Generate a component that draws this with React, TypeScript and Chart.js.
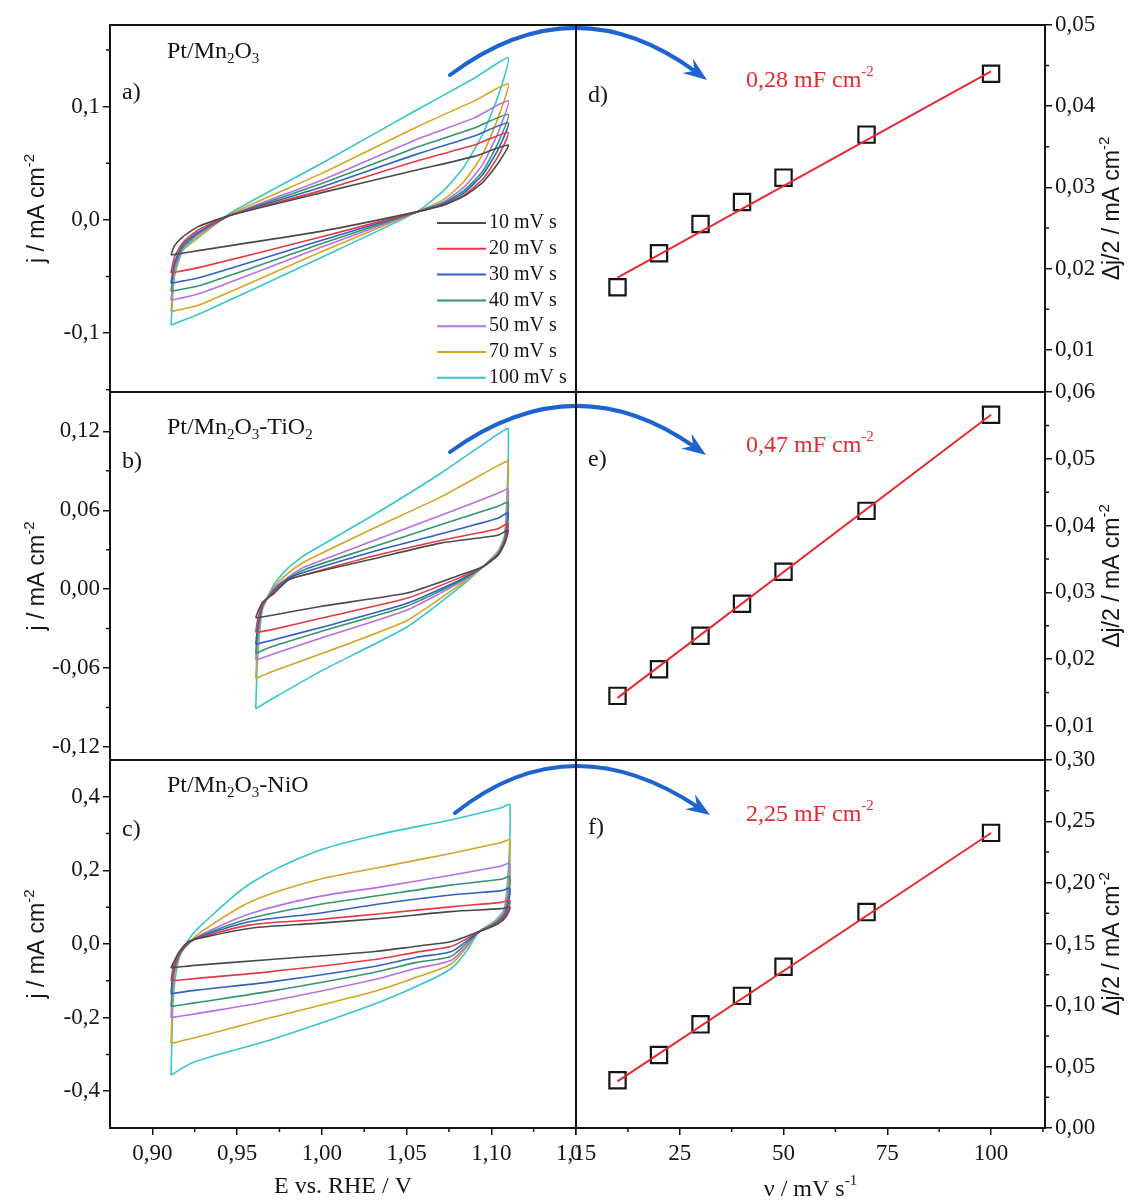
import React, { useEffect, useRef } from 'react';
import { Chart, registerables } from 'chart.js';

Chart.register(...registerables);

// ---------------- data ----------------
const SPEED_LABELS = ['10 mV s', '20 mV s', '30 mV s', '40 mV s', '50 mV s', '70 mV s', '100 mV s'];
const SCAN_RATES = [10, 20, 30, 40, 50, 70, 100];

// Panel a) Pt/Mn2O3
const A_E_ANODIC = [0.911, 0.913, 0.918, 0.927, 0.946, 1.0, 1.056, 1.09, 1.11];
const A_J_ANODIC = [
  [-0.031, -0.023, -0.015, -0.006, 0.004, 0.024, 0.044, 0.056, 0.066],
  [-0.047, -0.033, -0.02, -0.009, 0.004, 0.026, 0.052, 0.066, 0.077],
  [-0.056, -0.038, -0.022, -0.011, 0.004, 0.029, 0.058, 0.074, 0.0855],
  [-0.063, -0.041, -0.024, -0.012, 0.004, 0.032, 0.064, 0.081, 0.093],
  [-0.071, -0.045, -0.025, -0.013, 0.004, 0.035, 0.071, 0.09, 0.105],
  [-0.081, -0.048, -0.026, -0.015, 0.005, 0.041, 0.082, 0.105, 0.12],
  [-0.093, -0.05, -0.027, -0.016, 0.006, 0.05, 0.097, 0.125, 0.143],
];
const A_E_CATHODIC = [1.11, 1.104, 1.095, 1.084, 1.072, 1.056, 1.0, 0.928, 0.911];
const A_J_CATHODIC = [
  [0.066, 0.05, 0.033, 0.021, 0.013, 0.007, -0.01, -0.027, -0.031],
  [0.077, 0.056, 0.036, 0.022, 0.013, 0.007, -0.015, -0.042, -0.047],
  [0.0855, 0.062, 0.04, 0.024, 0.014, 0.007, -0.018, -0.051, -0.056],
  [0.093, 0.068, 0.043, 0.026, 0.015, 0.007, -0.021, -0.058, -0.063],
  [0.105, 0.077, 0.049, 0.029, 0.016, 0.007, -0.024, -0.065, -0.071],
  [0.12, 0.09, 0.058, 0.034, 0.018, 0.007, -0.028, -0.075, -0.081],
  [0.143, 0.109, 0.076, 0.047, 0.026, 0.007, -0.033, -0.083, -0.093],
];

// Panel b) Pt/Mn2O3-TiO2
const B_E_ANODIC = [0.961, 0.962, 0.965, 0.972, 0.98, 0.99, 1.03, 1.07, 1.104, 1.11];
const B_J_ANODIC = [
  [-0.022, -0.018, -0.01, -0.003, 0.007, 0.011, 0.023, 0.035, 0.041, 0.045],
  [-0.033, -0.024, -0.011, -0.002, 0.007, 0.011, 0.025, 0.037, 0.046, 0.05],
  [-0.042, -0.03, -0.012, -0.001, 0.008, 0.013, 0.0285, 0.042, 0.054, 0.058],
  [-0.049, -0.034, -0.013, 0.0, 0.008, 0.015, 0.032, 0.049, 0.063, 0.066],
  [-0.054, -0.038, -0.014, 0.001, 0.009, 0.017, 0.0366, 0.056, 0.073, 0.076],
  [-0.068, -0.045, -0.015, 0.002, 0.012, 0.021, 0.046, 0.07, 0.094, 0.097],
  [-0.091, -0.055, -0.015, 0.004, 0.016, 0.026, 0.056, 0.088, 0.118, 0.122],
];
const B_E_CATHODIC = [1.11, 1.108, 1.104, 1.095, 1.08, 1.05, 1.0, 0.97, 0.961];
const B_J_CATHODIC = [
  [0.045, 0.035, 0.026, 0.017, 0.01, -0.003, -0.013, -0.02, -0.022],
  [0.05, 0.036, 0.026, 0.017, 0.008, -0.007, -0.022, -0.031, -0.033],
  [0.058, 0.037, 0.026, 0.017, 0.006, -0.011, -0.029, -0.039, -0.042],
  [0.066, 0.038, 0.027, 0.017, 0.005, -0.013, -0.032, -0.044, -0.049],
  [0.076, 0.039, 0.027, 0.017, 0.004, -0.016, -0.037, -0.05, -0.054],
  [0.097, 0.04, 0.028, 0.017, 0.002, -0.024, -0.049, -0.063, -0.068],
  [0.122, 0.042, 0.029, 0.017, 0.0, -0.029, -0.062, -0.084, -0.091],
];

// Panel c) Pt/Mn2O3-NiO
const C_E_ANODIC = [0.911, 0.9125, 0.916, 0.922, 0.93, 0.958, 0.997, 1.036, 1.076, 1.106, 1.111];
const C_J_ANODIC = [
  [-0.065, -0.05, -0.02, 0.008, 0.018, 0.043, 0.056, 0.07, 0.088, 0.096, 0.1],
  [-0.1, -0.06, -0.022, 0.006, 0.02, 0.052, 0.066, 0.083, 0.101, 0.113, 0.118],
  [-0.135, -0.07, -0.025, 0.005, 0.023, 0.061, 0.083, 0.11, 0.133, 0.145, 0.15],
  [-0.17, -0.08, -0.028, 0.004, 0.025, 0.07, 0.106, 0.133, 0.16, 0.176, 0.182],
  [-0.2, -0.09, -0.03, 0.004, 0.028, 0.083, 0.128, 0.156, 0.187, 0.212, 0.218],
  [-0.27, -0.11, -0.035, 0.006, 0.037, 0.115, 0.174, 0.21, 0.246, 0.276, 0.282],
  [-0.356, -0.14, -0.035, 0.016, 0.056, 0.165, 0.252, 0.3, 0.337, 0.37, 0.378],
];
const C_E_CATHODIC = [1.111, 1.108, 1.102, 1.093, 1.085, 1.076, 1.056, 1.03, 0.97, 0.925, 0.911];
const C_J_CATHODIC = [
  [0.1, 0.07, 0.05, 0.034, 0.02, 0.006, -0.006, -0.021, -0.042, -0.058, -0.065],
  [0.118, 0.075, 0.052, 0.034, 0.013, -0.007, -0.022, -0.043, -0.075, -0.094, -0.1],
  [0.15, 0.08, 0.054, 0.034, 0.006, -0.021, -0.036, -0.062, -0.103, -0.126, -0.135],
  [0.182, 0.085, 0.056, 0.034, 0.0, -0.034, -0.05, -0.078, -0.128, -0.16, -0.17],
  [0.218, 0.09, 0.058, 0.034, -0.007, -0.045, -0.066, -0.098, -0.155, -0.19, -0.2],
  [0.282, 0.095, 0.06, 0.034, -0.012, -0.055, -0.09, -0.13, -0.2, -0.255, -0.27],
  [0.378, 0.1, 0.062, 0.034, -0.022, -0.068, -0.115, -0.165, -0.26, -0.32, -0.356],
];

// Panels d, e, f: delta j / 2 vs scan rate
const D_DJ = [0.0177, 0.0219, 0.0255, 0.0282, 0.0312, 0.0365, 0.044];
const E_DJ = [0.0145, 0.0185, 0.0235, 0.0283, 0.0331, 0.0422, 0.0566];
const F_DJ = [0.039, 0.0595, 0.0845, 0.1077, 0.1315, 0.176, 0.2406];
const FIT_X = [10, 100];
const D_FIT = [0.0189, 0.0443];
const E_FIT = [0.0142, 0.0566];
const F_FIT = [0.038, 0.2405];
const CAP_LABELS = ['0,28 mF cm', '0,47 mF cm', '2,25 mF cm'];

// tick labels
const A_TICKS = [-0.1, 0, 0.1];
const A_MINOR = [-0.15, -0.05, 0.05, 0.15];
const B_TICKS = [-0.12, -0.06, 0, 0.06, 0.12];
const B_MINOR = [-0.09, -0.03, 0.03, 0.09];
const C_TICKS = [-0.4, -0.2, 0, 0.2, 0.4];
const C_MINOR = [-0.3, -0.1, 0.1, 0.3];
const D_TICKS = [0.01, 0.02, 0.03, 0.04, 0.05];
const D_MINOR = [0.015, 0.025, 0.035, 0.045];
const E_TICKS = [0.01, 0.02, 0.03, 0.04, 0.05, 0.06];
const E_MINOR = [0.015, 0.025, 0.035, 0.045, 0.055];
const F_TICKS = [0, 0.05, 0.1, 0.15, 0.2, 0.25, 0.3];
const F_MINOR = [0.025, 0.075, 0.125, 0.175, 0.225, 0.275];
const E_AXIS_TICKS = [0.9, 0.95, 1.0, 1.05, 1.1, 1.15];
const E_AXIS_MINOR = [0.925, 0.975, 1.025, 1.075, 1.125];
const V_AXIS_TICKS = [0, 25, 50, 75, 100];
const V_AXIS_MINOR = [12.5, 37.5, 62.5, 87.5, 112.5];

// ---------------- styles / layout ----------------
const W = 1132;
const H = 1203;
const SERIF = "'Liberation Serif', 'Times New Roman', serif";
const SANS = "'Liberation Sans', Arial, sans-serif";
const INK = '#151515';
const SPEED_COLORS = ['#4a4a4a', '#e23b45', '#2f62c2', '#34946b', '#b570e6', '#d6a424', '#35c7c9'];
const FIT_COLOR = '#e62a33';
const ARROW_COLOR = '#1f63d3';
const ROW_TOP = [25, 392, 760];
const ROW_BOTTOM = [392, 760, 1128];
const LEFT_X0 = 110;
const MID_X = 576;
const RIGHT_X1 = 1045;
const X_AXIS_H = 44;
const TICK_FONT = 23;
const CV_TENSION = [0.18, 0.18, 0.3];

type Seg = { t: string; s?: 'sub' | 'sup' };

function fmt(v: number, d: number) {
  return v.toFixed(d).replace('.', ',');
}

function drawRich(
  ctx: CanvasRenderingContext2D,
  segs: Seg[],
  x: number,
  y: number,
  size: number,
  family: string,
  color: string,
  align: 'left' | 'center'
) {
  const small = Math.round(size * 0.64);
  const widths = segs.map((sg) => {
    ctx.font = `${sg.s ? small : size}px ${family}`;
    return ctx.measureText(sg.t).width;
  });
  const total = widths.reduce((a, b) => a + b, 0);
  let cx = align === 'center' ? x - total / 2 : x;
  ctx.textBaseline = 'middle';
  ctx.textAlign = 'left';
  ctx.fillStyle = color;
  segs.forEach((sg, i) => {
    ctx.font = `${sg.s ? small : size}px ${family}`;
    const dy = sg.s === 'sub' ? size * 0.3 : sg.s === 'sup' ? -size * 0.36 : 0;
    ctx.fillText(sg.t, cx, y + dy);
    cx += widths[i];
  });
}

function drawArrow(ctx: CanvasRenderingContext2D, a: number[]) {
  const [x0, y0, xp, yp, x1, y1] = a;
  const cx = 2 * xp - 0.5 * (x0 + x1);
  const cy = 2 * yp - 0.5 * (y0 + y1);
  const dx = x1 - cx;
  const dy = y1 - cy;
  const L = Math.hypot(dx, dy);
  const ux = dx / L;
  const uy = dy / L;
  const headLen = 24;
  const headW = 9;
  const bx = x1 - ux * headLen * 0.6;
  const by = y1 - uy * headLen * 0.6;
  ctx.strokeStyle = ARROW_COLOR;
  ctx.lineWidth = 4;
  ctx.lineCap = 'round';
  ctx.beginPath();
  ctx.moveTo(x0, y0);
  ctx.quadraticCurveTo(cx, cy, bx, by);
  ctx.stroke();
  ctx.fillStyle = ARROW_COLOR;
  ctx.beginPath();
  ctx.moveTo(x1, y1);
  ctx.lineTo(x1 - ux * headLen - uy * headW, y1 - uy * headLen + ux * headW);
  ctx.lineTo(x1 - ux * headLen * 0.65, y1 - uy * headLen * 0.65);
  ctx.lineTo(x1 - ux * headLen + uy * headW, y1 - uy * headLen - ux * headW);
  ctx.closePath();
  ctx.fill();
}

type Deco = {
  side: 'left' | 'right';
  yMinor: number[];
  xMinor: number[] | null;
  texts: { segs: Seg[]; x: number; y: number; color: string; size: number }[];
  yTitle: { segs: Seg[]; x: number };
  xTitle: { segs: Seg[]; x: number; y: number } | null;
  legend: boolean;
  arrow: number[] | null;
};

function makeDeco(d: Deco) {
  return {
    id: 'deco',
    afterDraw(chart: any) {
      const ctx: CanvasRenderingContext2D = chart.ctx;
      const ca = chart.chartArea;
      const ys = chart.scales.y;
      const xs = chart.scales.x;
      ctx.save();
      // minor ticks
      ctx.strokeStyle = INK;
      ctx.lineWidth = 1.5;
      ctx.beginPath();
      d.yMinor.forEach((v) => {
        const py = ys.getPixelForValue(v);
        if (d.side === 'left') {
          ctx.moveTo(ca.left - 4, py);
          ctx.lineTo(ca.left, py);
        } else {
          ctx.moveTo(ca.right, py);
          ctx.lineTo(ca.right + 4, py);
        }
      });
      if (d.xMinor) {
        d.xMinor.forEach((v) => {
          const px = xs.getPixelForValue(v);
          ctx.moveTo(px, ca.bottom);
          ctx.lineTo(px, ca.bottom + 4);
        });
      }
      ctx.stroke();
      // frame
      ctx.strokeStyle = INK;
      ctx.lineWidth = 2;
      ctx.strokeRect(ca.left, ca.top, ca.right - ca.left, ca.bottom - ca.top);
      // texts
      d.texts.forEach((t) => drawRich(ctx, t.segs, t.x, t.y, t.size, SERIF, t.color, 'left'));
      // y title
      ctx.save();
      ctx.translate(d.yTitle.x, (ca.top + ca.bottom) / 2);
      ctx.rotate(-Math.PI / 2);
      drawRich(ctx, d.yTitle.segs, 0, 0, 23, SANS, INK, 'center');
      ctx.restore();
      // x title
      if (d.xTitle) drawRich(ctx, d.xTitle.segs, d.xTitle.x, d.xTitle.y, 24, SERIF, INK, 'center');
      // legend
      if (d.legend) {
        SPEED_LABELS.forEach((lab, i) => {
          const y = ca.top + 198 + i * 25.8;
          ctx.strokeStyle = SPEED_COLORS[i];
          ctx.lineWidth = 2;
          ctx.beginPath();
          ctx.moveTo(ca.left + 327, y);
          ctx.lineTo(ca.left + 376, y);
          ctx.stroke();
          drawRich(ctx, [{ t: lab }], ca.left + 379, y, 20, SERIF, INK, 'left');
        });
      }
      if (d.arrow) drawArrow(ctx, d.arrow);
      ctx.restore();
    },
  };
}

function loopPoints(eA: number[], jA: number[], eC: number[], jC: number[]) {
  const pts = eA.map((e, i) => ({ x: e, y: jA[i] }));
  eC.forEach((e, i) => {
    if (i > 0) pts.push({ x: e, y: jC[i] });
  });
  return pts;
}

function yAxis(min: number, max: number, ticks: number[], dec: number, position: 'left' | 'right') {
  return {
    type: 'linear',
    position,
    min,
    max,
    afterBuildTicks: (s: any) => {
      s.ticks = ticks.map((v) => ({ value: v }));
    },
    afterFit: (s: any) => {
      s.width = position === 'left' ? LEFT_X0 : W - RIGHT_X1;
      s.paddingTop = 0;
      s.paddingBottom = 0;
    },
    ticks: {
      callback: (v: any) => fmt(Number(v), dec),
      font: { family: SERIF, size: TICK_FONT },
      color: INK,
      padding: 3,
      autoSkip: false,
    },
    grid: { display: true, drawOnChartArea: false, drawTicks: true, tickLength: 7, color: INK, lineWidth: 1.5 },
    border: { display: true, color: INK, width: 2 },
  };
}

function xAxis(min: number, max: number, ticks: number[], dec: number, show: boolean) {
  return {
    type: 'linear',
    position: 'bottom',
    min,
    max,
    display: show,
    afterBuildTicks: (s: any) => {
      s.ticks = ticks.map((v) => ({ value: v }));
    },
    afterFit: (s: any) => {
      s.height = show ? X_AXIS_H : 0;
      s.paddingLeft = 0;
      s.paddingRight = 0;
    },
    ticks: {
      callback: (v: any) => fmt(Number(v), dec),
      font: { family: SERIF, size: TICK_FONT },
      color: INK,
      padding: 5,
      autoSkip: false,
      maxRotation: 0,
    },
    grid: { display: true, drawOnChartArea: false, drawTicks: true, tickLength: 7, color: INK, lineWidth: 1.5 },
    border: { display: true, color: INK, width: 2 },
  };
}

const LEFT_PANELS = [
  { eA: A_E_ANODIC, jA: A_J_ANODIC, eC: A_E_CATHODIC, jC: A_J_CATHODIC, yMin: -0.152, yMax: 0.172, ticks: A_TICKS, minor: A_MINOR, dec: 1,
    title: [{ t: 'Pt/Mn' }, { t: '2', s: 'sub' }, { t: 'O' }, { t: '3', s: 'sub' }] as Seg[], titleY: 52, letter: 'a)', letterY: 93 },
  { eA: B_E_ANODIC, jA: B_J_ANODIC, eC: B_E_CATHODIC, jC: B_J_CATHODIC, yMin: -0.13, yMax: 0.15, ticks: B_TICKS, minor: B_MINOR, dec: 2,
    title: [{ t: 'Pt/Mn' }, { t: '2', s: 'sub' }, { t: 'O' }, { t: '3', s: 'sub' }, { t: '-TiO' }, { t: '2', s: 'sub' }] as Seg[], titleY: 428, letter: 'b)', letterY: 462 },
  { eA: C_E_ANODIC, jA: C_J_ANODIC, eC: C_E_CATHODIC, jC: C_J_CATHODIC, yMin: -0.5, yMax: 0.5, ticks: C_TICKS, minor: C_MINOR, dec: 1,
    title: [{ t: 'Pt/Mn' }, { t: '2', s: 'sub' }, { t: 'O' }, { t: '3', s: 'sub' }, { t: '-NiO' }] as Seg[], titleY: 786, letter: 'c)', letterY: 830 },
];

const RIGHT_PANELS = [
  { dj: D_DJ, fit: D_FIT, yMin: 0.0048, yMax: 0.05, ticks: D_TICKS, minor: D_MINOR, letter: 'd)', letterY: 96, capY: 81 },
  { dj: E_DJ, fit: E_FIT, yMin: 0.0049, yMax: 0.06, ticks: E_TICKS, minor: E_MINOR, letter: 'e)', letterY: 460, capY: 446 },
  { dj: F_DJ, fit: F_FIT, yMin: 0, yMax: 0.3, ticks: F_TICKS, minor: F_MINOR, letter: 'f)', letterY: 828, capY: 815 },
];

const ARROWS = [
  [450, 75, 576, 30, 707, 80],
  [450, 452, 576, 408, 706, 455],
  [455, 813, 576, 768, 710, 815],
];

const J_TITLE: Seg[] = [{ t: 'j / mA cm' }, { t: '-2', s: 'sup' }];
const DJ_TITLE: Seg[] = [{ t: '\u0394j/2 / mA cm' }, { t: '-2', s: 'sup' }];

function leftConfig(row: number): any {
  const p = LEFT_PANELS[row];
  const bottom = row === 2;
  return {
    type: 'scatter',
    data: {
      datasets: SPEED_LABELS.map((lab, i) => ({
        label: lab,
        data: loopPoints(p.eA, p.jA[i], p.eC, p.jC[i]),
        showLine: true,
        borderColor: SPEED_COLORS[i],
        backgroundColor: SPEED_COLORS[i],
        borderWidth: 1.6,
        pointRadius: 0,
        pointHoverRadius: 0,
        tension: CV_TENSION[row],
      })),
    },
    options: {
      responsive: false,
      animation: false,
      devicePixelRatio: 1,
      events: [],
      layout: {
        autoPadding: false,
        padding: {
          left: 0,
          right: W - MID_X,
          top: ROW_TOP[row],
          bottom: bottom ? H - ROW_BOTTOM[row] - X_AXIS_H : H - ROW_BOTTOM[row],
        },
      },
      plugins: { legend: { display: false }, tooltip: { enabled: false } },
      scales: {
        x: xAxis(0.875, 1.15, E_AXIS_TICKS, 2, bottom),
        y: yAxis(p.yMin, p.yMax, p.ticks, p.dec, 'left'),
      },
    },
    plugins: [
      makeDeco({
        side: 'left',
        yMinor: p.minor,
        xMinor: bottom ? E_AXIS_MINOR : null,
        texts: [
          { segs: p.title, x: 167, y: p.titleY, color: INK, size: 24 },
          { segs: [{ t: p.letter }], x: 122, y: p.letterY, color: INK, size: 24 },
        ],
        yTitle: { segs: J_TITLE, x: 38 },
        xTitle: bottom ? { segs: [{ t: 'E vs. RHE / V' }], x: (LEFT_X0 + MID_X) / 2, y: 1187 } : null,
        legend: row === 0,
        arrow: ARROWS[row],
      }),
    ],
  };
}

function rightConfig(row: number): any {
  const p = RIGHT_PANELS[row];
  const bottom = row === 2;
  return {
    type: 'scatter',
    data: {
      datasets: [
        {
          label: 'fit',
          data: FIT_X.map((x, i) => ({ x, y: p.fit[i] })),
          showLine: true,
          borderColor: FIT_COLOR,
          borderWidth: 2,
          pointRadius: 0,
          pointHoverRadius: 0,
        },
        {
          label: 'data',
          data: SCAN_RATES.map((x, i) => ({ x, y: p.dj[i] })),
          showLine: false,
          pointStyle: 'rect',
          pointRadius: 11.5,
          pointBorderWidth: 2.2,
          borderColor: INK,
          pointBorderColor: INK,
          backgroundColor: 'rgba(0,0,0,0)',
          pointBackgroundColor: 'rgba(0,0,0,0)',
        },
      ],
    },
    options: {
      responsive: false,
      animation: false,
      devicePixelRatio: 1,
      events: [],
      layout: {
        autoPadding: false,
        padding: {
          left: MID_X,
          right: 0,
          top: ROW_TOP[row],
          bottom: bottom ? H - ROW_BOTTOM[row] - X_AXIS_H : H - ROW_BOTTOM[row],
        },
      },
      plugins: { legend: { display: false }, tooltip: { enabled: false } },
      scales: {
        x: xAxis(0, 113, V_AXIS_TICKS, 0, bottom),
        y: yAxis(p.yMin, p.yMax, p.ticks, 2, 'right'),
      },
    },
    plugins: [
      makeDeco({
        side: 'right',
        yMinor: p.minor,
        xMinor: bottom ? V_AXIS_MINOR : null,
        texts: [
          { segs: [{ t: p.letter }], x: 588, y: p.letterY, color: INK, size: 24 },
          { segs: [{ t: CAP_LABELS[row] }, { t: '-2', s: 'sup' }], x: 746, y: p.capY, color: FIT_COLOR, size: 24 },
        ],
        yTitle: { segs: DJ_TITLE, x: 1113 },
        xTitle: bottom ? { segs: [{ t: '\u03bd / mV s' }, { t: '-1', s: 'sup' }], x: (MID_X + RIGHT_X1) / 2, y: 1190 } : null,
        legend: false,
        arrow: null,
      }),
    ],
  };
}

export default function App() {
  const holder = useRef<HTMLDivElement>(null);

  useEffect(() => {
    const host = holder.current;
    if (!host) return;
    const charts: Chart[] = [];
    const canvases: HTMLCanvasElement[] = [];
    const configs = [0, 1, 2].flatMap((r) => [leftConfig(r), rightConfig(r)]);
    configs.forEach((cfg) => {
      const c = document.createElement('canvas');
      c.width = W;
      c.height = H;
      c.style.position = 'absolute';
      c.style.left = '0px';
      c.style.top = '0px';
      c.style.width = `${W}px`;
      c.style.height = `${H}px`;
      host.appendChild(c);
      canvases.push(c);
      charts.push(new Chart(c, cfg));
    });
    return () => {
      charts.forEach((ch) => ch.destroy());
      canvases.forEach((c) => c.remove());
    };
  }, []);

  return (
    <div
      ref={holder}
      style={{ position: 'absolute', left: 0, top: 0, width: W, height: H, background: '#ffffff', overflow: 'hidden' }}
    />
  );
}
